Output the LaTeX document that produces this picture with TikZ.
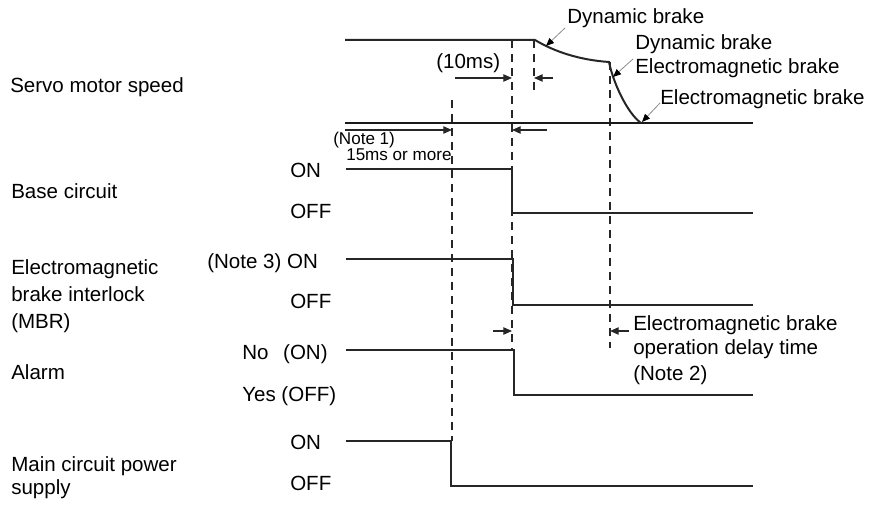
\documentclass[tikz,border=0pt]{standalone}
\usepackage{fontspec}
\setmainfont{Liberation Sans}
\usetikzlibrary{arrows.meta}
\begin{document}
\begin{tikzpicture}[x=0.75pt,y=-0.75pt,
 lbl/.style={inner sep=0pt, anchor=base west, font=\fontsize{15.4}{19}\selectfont},
 small/.style={inner sep=0pt, anchor=base west, font=\fontsize{12.8}{14}\selectfont},
 sig/.style={line width=1.5pt, draw=black!85, line join=miter},
 zero/.style={line width=1.9pt, draw=black!90},
 guide/.style={dash pattern=on 6pt off 4.5pt, line width=0.9pt, draw=black!85},
 dim/.style={line width=0.9pt, draw=black!85, -{Triangle[length=6.5pt,width=5.5pt]}},
 leader/.style={line width=0.6pt, draw=black!45, -{Triangle[length=6pt,width=5pt,color=black]}}
]
\useasboundingbox (0,0) rectangle (874,505);

% left labels
\node[lbl] (sms) at (10,93) {Servo motor speed};
\node[lbl] (bc) at (11,199) {Base circuit};
\node[lbl] (mbr1) at (11,275) {Electromagnetic};
\node[lbl] (mbr2) at (11,302) {brake interlock};
\node[lbl] (mbr3) at (11,329) {(MBR)};
\node[lbl] (al) at (11,380) {Alarm};
\node[lbl] (mc1) at (11,471) {Main circuit power};
\node[lbl] (mc2) at (11,494) {supply};

% state labels
\node[lbl] (bon) at (290,178) {ON};
\node[lbl] (boff) at (290,219) {OFF};
\node[lbl] (mon3) at (207,269) {(Note 3) ON};
\node[lbl] (moff) at (290,309) {OFF};
\node[lbl] (aon) at (242,360) {No\hspace{11pt}(ON)};
\node[lbl] (aoff) at (242,402) {Yes (OFF)};
\node[lbl] (pon) at (290,450) {ON};
\node[lbl] (poff) at (290,490) {OFF};

% annotations
\node[lbl] (db1) at (567,24) {Dynamic brake};
\node[lbl] (db2) at (635,50) {Dynamic brake};
\node[lbl] (eb2) at (635,74) {Electromagnetic brake};
\node[lbl] (eb3) at (660,105) {Electromagnetic brake};
\node[lbl] (t10) at (436,69) {(10ms)};
\node[small] (n1) at (333,145) {(Note 1)};
\node[small] (n1b) at (346,161) {15ms or more};
\node[lbl] (d1) at (633,331) {Electromagnetic brake};
\node[lbl] (d2) at (633,355) {operation delay time};
\node[lbl] (d3) at (633,381) {(Note 2)};

% guides (dashed)
\draw[guide] (452,100) -- (452,441);
\draw[guide] (512,40) -- (512,350);
\draw[guide] (534,40) -- (534,92);
\draw[guide] (610,62) -- (610,348);

% servo speed
\draw[zero] (345,123) -- (753,123);
\draw[sig] (345,40) -- (535,40) .. controls (555,52) and (580,60) .. (609,62)
  .. controls (613,82) and (627,113) .. (641,123);

% signals
\draw[sig] (346,169) -- (512,169) -- (512,213) -- (753,213);
\draw[sig] (346,259) -- (513,259) -- (513,305) -- (753,305);
\draw[sig] (346,350) -- (514,350) -- (514,395) -- (753,395);
\draw[sig] (346,441) -- (451,441) -- (451,486) -- (753,486);

% dimension arrows
\draw[dim] (455,78) -- (512,78);
\draw[dim] (553,78) -- (534,78);
\draw[dim] (345,130) -- (452,130);
\draw[dim] (547,130) -- (512,130);
\draw[dim] (493,331) -- (512,331);
\draw[dim] (629,331) -- (610,331);

% leaders
\draw[leader] (565,28) -- (546,46);
\draw[leader] (633,59) -- (613,77);
\draw[leader] (660,103) -- (642,122);
\end{tikzpicture}
\end{document}
